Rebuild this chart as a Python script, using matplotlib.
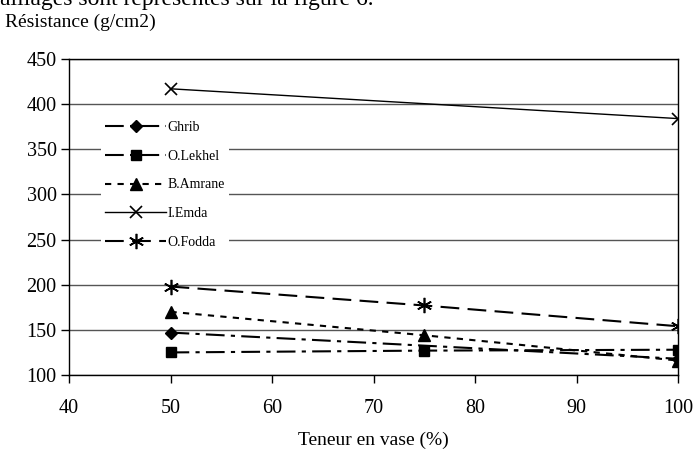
import matplotlib
matplotlib.use("Agg")
import matplotlib.pyplot as plt

plt.rcParams['font.family'] = ['Liberation Serif', 'DejaVu Serif']

x_ghrib = [50, 100]
y_ghrib = [147, 118]
x_lekhel = [50, 75, 100]
y_lekhel = [125, 127, 128]
x_amrane = [50, 75, 100]
y_amrane = [170, 144, 116]
x_emda = [50, 100]
y_emda = [417, 384]
x_fodda = [50, 75, 100]
y_fodda = [198, 177, 154]

x_ticks = [40, 50, 60, 70, 80, 90, 100]
y_ticks = [100, 150, 200, 250, 300, 350, 400, 450]

W, H = 698, 454
fig = plt.figure(figsize=(W / 100, H / 100), dpi=100)
ax = fig.add_axes([69 / W, 1 - 375 / H, (678 - 69) / W, (375 - 59) / H])

ax.set_xlim(40, 100)
ax.set_ylim(100, 450)
ax.set_xticks(x_ticks)
ax.set_yticks(y_ticks)
ax.grid(axis='y', color='#555555', lw=1.0)
ax.set_axisbelow(True)
for s in ax.spines.values():
    s.set_color('black')
    s.set_linewidth(1.0)
ax.tick_params(axis='both', direction='out', length=6, width=1, labelsize=14.5)
ax.tick_params(axis='x', pad=11)
ax.tick_params(axis='y', pad=3)

ms = 7
ax.plot(x_ghrib, y_ghrib, color='black', lw=1.5, dashes=(9, 3, 2, 3), marker='D', ms=6, label='Ghrib')
ax.plot(x_lekhel, y_lekhel, color='black', lw=1.5, dashes=(9, 3, 2, 3), marker='s', ms=ms, label='O.Lekhel')
ax.plot(x_amrane, y_amrane, color='black', lw=1.5, dashes=(3, 3), marker='^', ms=ms + 1, label='B.Amrane')
ax.plot(x_emda, y_emda, color='black', lw=1.0, ls='-', marker='x', ms=ms + 1, mew=1.2, label='I.Emda')
ax.plot(x_fodda, y_fodda, color='black', lw=1.5, dashes=(9, 4), marker=(6, 2, 0), ms=ms + 4, mew=1.2, label='O.Fodda')

leg = ax.legend(loc='upper left', bbox_to_anchor=(94 / W, 1 - 110 / H),
                bbox_transform=fig.transFigure, frameon=True, fancybox=False,
                edgecolor='none', facecolor='white', framealpha=1,
                fontsize=10, handlelength=4.4, labelspacing=1.13, handletextpad=0.1,
                borderpad=0.3)

ax.set_xlabel('Teneur en vase (%)', fontsize=14, labelpad=10)
fig.text(5 / W, 1 - 27 / H, 'Résistance (g/cm2)', fontsize=14, ha='left', va='baseline')
fig.text(0, 1 - 5 / H, 'aillages sont représentés sur la figure 6.', fontsize=17,
         ha='left', va='baseline')

fig.savefig('out.png', dpi=100)
